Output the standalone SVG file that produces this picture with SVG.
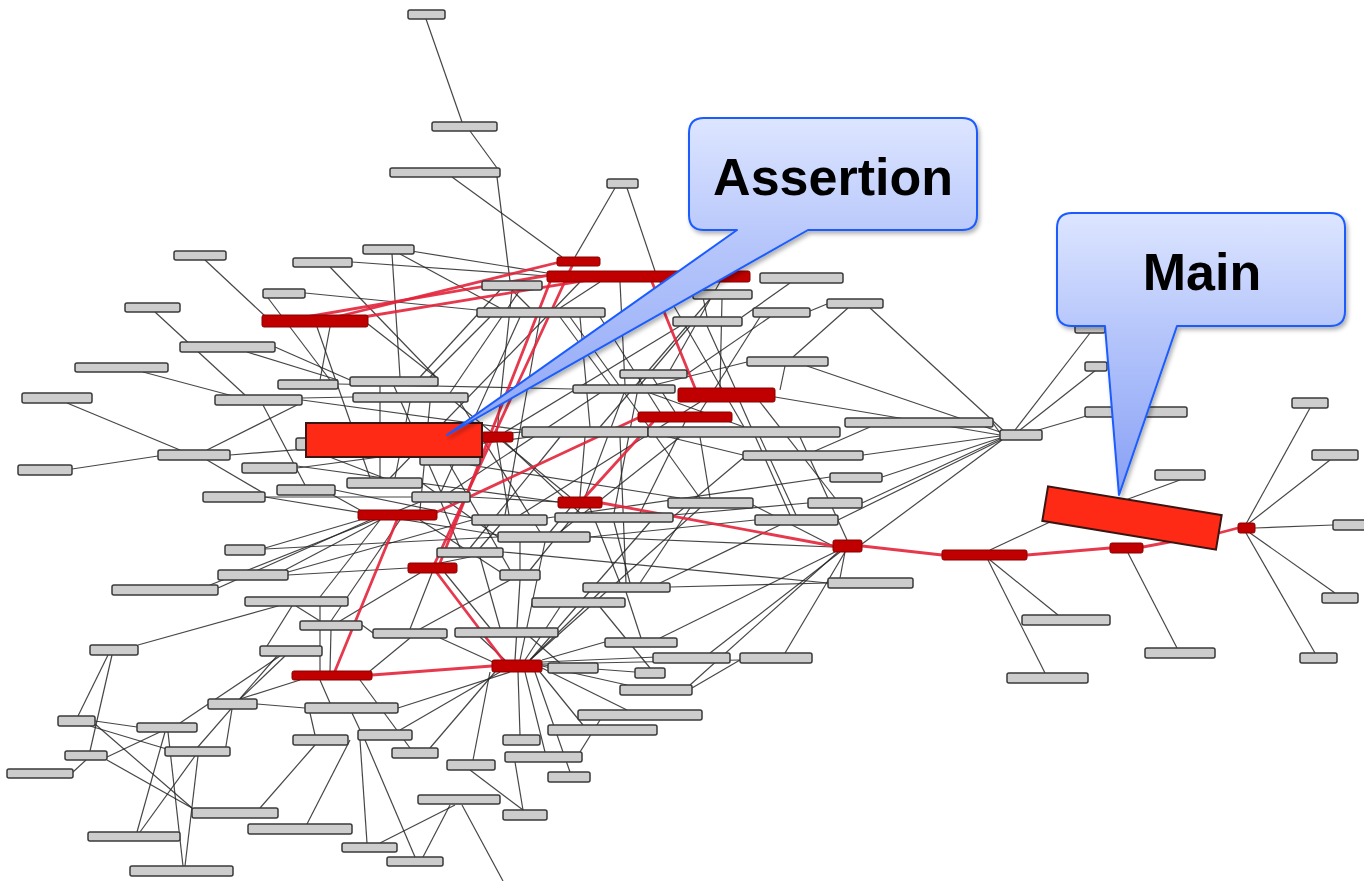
<svg xmlns="http://www.w3.org/2000/svg" width="1364" height="881" viewBox="0 0 1364 881">
<style>
.nd rect{fill:#cdcdcd;stroke:#3a3a3a;stroke-width:1.5}
.rd rect{fill:#c00000;stroke:#8a0000;stroke-width:1}
.e line{stroke:#262626;stroke-width:1.2;stroke-opacity:.85}
.r line{stroke:#e3243b;stroke-width:2.8;stroke-opacity:.9;stroke-linecap:round}
.big{fill:#ff2a16;stroke:#3a1512;stroke-width:2}
.co{stroke:#1a5cff;stroke-width:2;stroke-linejoin:round}
.ct{font-family:"Liberation Sans",Arial,sans-serif;font-weight:bold;font-size:52px;fill:#000;text-anchor:middle}
</style>
<defs>
<linearGradient id="ga" gradientUnits="userSpaceOnUse" x1="0" y1="118" x2="0" y2="435">
<stop offset="0" stop-color="#dde5ff"/><stop offset="0.4" stop-color="#b6c6fb"/><stop offset="1" stop-color="#8ea6f6"/>
</linearGradient>
<linearGradient id="gm" gradientUnits="userSpaceOnUse" x1="0" y1="213" x2="0" y2="495">
<stop offset="0" stop-color="#dde5ff"/><stop offset="0.42" stop-color="#b6c6fb"/><stop offset="1" stop-color="#88a0f5"/>
</linearGradient>
<filter id="sh" x="-10%" y="-10%" width="130%" height="130%">
<feDropShadow dx="2" dy="3" stdDeviation="2" flood-color="#000" flood-opacity="0.3"/>
</filter>
</defs>
<rect width="1364" height="881" fill="#fff"/>

<g id="connectors">
<g class="e">
<line x1="426" y1="19" x2="462" y2="122"/>
<line x1="470" y1="131" x2="497" y2="168"/>
<line x1="497" y1="177" x2="510" y2="281"/>
<line x1="452" y1="177" x2="562" y2="257"/>
<line x1="615" y1="188" x2="575" y2="257"/>
<line x1="627" y1="188" x2="655" y2="271"/>
<line x1="205" y1="260" x2="265" y2="316"/>
<line x1="330" y1="267" x2="437" y2="378"/>
<line x1="352" y1="262" x2="547" y2="276"/>
<line x1="392" y1="254" x2="400" y2="377"/>
<line x1="400" y1="254" x2="500" y2="308"/>
<line x1="405" y1="250" x2="547" y2="273"/>
<line x1="305" y1="293" x2="477" y2="310"/>
<line x1="268" y1="298" x2="330" y2="380"/>
<line x1="155" y1="312" x2="245" y2="395"/>
<line x1="247" y1="352" x2="338" y2="380"/>
<line x1="275" y1="347" x2="350" y2="380"/>
<line x1="143" y1="372" x2="233" y2="396"/>
<line x1="67" y1="403" x2="180" y2="450"/>
<line x1="207" y1="450" x2="297" y2="405"/>
<line x1="72" y1="469" x2="158" y2="456"/>
<line x1="207" y1="460" x2="265" y2="494"/>
<line x1="263" y1="405" x2="305" y2="485"/>
<line x1="265" y1="497" x2="412" y2="497"/>
<line x1="317" y1="327" x2="370" y2="478"/>
<line x1="330" y1="327" x2="320" y2="380"/>
<line x1="368" y1="324" x2="437" y2="378"/>
<line x1="302" y1="400" x2="522" y2="430"/>
<line x1="302" y1="398" x2="353" y2="397"/>
<line x1="338" y1="384" x2="573" y2="389"/>
<line x1="230" y1="455" x2="522" y2="432"/>
<line x1="297" y1="468" x2="530" y2="437"/>
<line x1="297" y1="466" x2="558" y2="502"/>
<line x1="335" y1="490" x2="472" y2="518"/>
<line x1="333" y1="495" x2="360" y2="510"/>
<line x1="265" y1="497" x2="498" y2="535"/>
<line x1="265" y1="549" x2="498" y2="537"/>
<line x1="288" y1="572" x2="472" y2="520"/>
<line x1="288" y1="575" x2="408" y2="568"/>
<line x1="210" y1="585" x2="420" y2="502"/>
<line x1="218" y1="588" x2="370" y2="520"/>
<line x1="380" y1="520" x2="285" y2="570"/>
<line x1="360" y1="520" x2="265" y2="548"/>
<line x1="380" y1="520" x2="320" y2="597"/>
<line x1="400" y1="520" x2="331" y2="621"/>
<line x1="420" y1="520" x2="505" y2="575"/>
<line x1="296" y1="444" x2="384" y2="478"/>
<line x1="512" y1="290" x2="530" y2="308"/>
<line x1="500" y1="290" x2="420" y2="377"/>
<line x1="512" y1="290" x2="497" y2="432"/>
<line x1="520" y1="290" x2="450" y2="393"/>
<line x1="490" y1="317" x2="430" y2="377"/>
<line x1="560" y1="317" x2="610" y2="385"/>
<line x1="580" y1="317" x2="590" y2="427"/>
<line x1="600" y1="317" x2="660" y2="412"/>
<line x1="520" y1="317" x2="441" y2="492"/>
<line x1="540" y1="317" x2="505" y2="515"/>
<line x1="570" y1="317" x2="700" y2="498"/>
<line x1="600" y1="282" x2="560" y2="308"/>
<line x1="620" y1="282" x2="625" y2="385"/>
<line x1="700" y1="282" x2="707" y2="317"/>
<line x1="720" y1="282" x2="670" y2="370"/>
<line x1="580" y1="282" x2="390" y2="478"/>
<line x1="660" y1="282" x2="744" y2="427"/>
<line x1="722" y1="299" x2="720" y2="388"/>
<line x1="710" y1="299" x2="600" y2="427"/>
<line x1="707" y1="326" x2="735" y2="388"/>
<line x1="690" y1="326" x2="640" y2="385"/>
<line x1="680" y1="326" x2="505" y2="432"/>
<line x1="770" y1="317" x2="687" y2="374"/>
<line x1="760" y1="317" x2="700" y2="412"/>
<line x1="653" y1="378" x2="675" y2="412"/>
<line x1="640" y1="378" x2="614" y2="513"/>
<line x1="600" y1="393" x2="450" y2="492"/>
<line x1="624" y1="393" x2="585" y2="497"/>
<line x1="650" y1="393" x2="744" y2="427"/>
<line x1="560" y1="437" x2="470" y2="548"/>
<line x1="585" y1="437" x2="580" y2="497"/>
<line x1="620" y1="437" x2="626" y2="583"/>
<line x1="700" y1="437" x2="710" y2="498"/>
<line x1="760" y1="437" x2="796" y2="515"/>
<line x1="800" y1="437" x2="847" y2="540"/>
<line x1="680" y1="437" x2="560" y2="532"/>
<line x1="685" y1="422" x2="640" y2="513"/>
<line x1="760" y1="402" x2="835" y2="498"/>
<line x1="740" y1="402" x2="790" y2="515"/>
<line x1="700" y1="402" x2="520" y2="515"/>
<line x1="394" y1="386" x2="441" y2="492"/>
<line x1="380" y1="386" x2="380" y2="478"/>
<line x1="410" y1="402" x2="395" y2="478"/>
<line x1="430" y1="402" x2="420" y2="510"/>
<line x1="460" y1="402" x2="540" y2="532"/>
<line x1="455" y1="402" x2="570" y2="497"/>
<line x1="422" y1="483" x2="498" y2="537"/>
<line x1="470" y1="497" x2="558" y2="502"/>
<line x1="441" y1="502" x2="460" y2="548"/>
<line x1="497" y1="442" x2="509" y2="515"/>
<line x1="505" y1="442" x2="580" y2="513"/>
<line x1="450" y1="465" x2="510" y2="570"/>
<line x1="470" y1="465" x2="680" y2="498"/>
<line x1="580" y1="508" x2="530" y2="570"/>
<line x1="590" y1="508" x2="620" y2="583"/>
<line x1="570" y1="508" x2="550" y2="532"/>
<line x1="614" y1="522" x2="630" y2="583"/>
<line x1="650" y1="522" x2="530" y2="660"/>
<line x1="690" y1="508" x2="640" y2="583"/>
<line x1="700" y1="508" x2="530" y2="660"/>
<line x1="780" y1="525" x2="660" y2="583"/>
<line x1="500" y1="525" x2="480" y2="548"/>
<line x1="520" y1="542" x2="520" y2="570"/>
<line x1="545" y1="542" x2="520" y2="660"/>
<line x1="470" y1="557" x2="440" y2="563"/>
<line x1="480" y1="557" x2="500" y2="628"/>
<line x1="520" y1="580" x2="515" y2="660"/>
<line x1="510" y1="580" x2="420" y2="629"/>
<line x1="600" y1="592" x2="530" y2="660"/>
<line x1="626" y1="592" x2="641" y2="638"/>
<line x1="560" y1="607" x2="525" y2="660"/>
<line x1="600" y1="607" x2="650" y2="668"/>
<line x1="480" y1="637" x2="505" y2="660"/>
<line x1="530" y1="637" x2="560" y2="663"/>
<line x1="432" y1="573" x2="410" y2="629"/>
<line x1="420" y1="573" x2="340" y2="621"/>
<line x1="445" y1="573" x2="490" y2="628"/>
<line x1="410" y1="638" x2="370" y2="671"/>
<line x1="440" y1="638" x2="495" y2="663"/>
<line x1="331" y1="630" x2="330" y2="671"/>
<line x1="320" y1="606" x2="320" y2="671"/>
<line x1="362" y1="625" x2="373" y2="633"/>
<line x1="300" y1="680" x2="240" y2="699"/>
<line x1="320" y1="680" x2="330" y2="703"/>
<line x1="360" y1="680" x2="410" y2="748"/>
<line x1="510" y1="672" x2="398" y2="708"/>
<line x1="500" y1="672" x2="400" y2="730"/>
<line x1="495" y1="672" x2="430" y2="748"/>
<line x1="490" y1="672" x2="473" y2="760"/>
<line x1="518" y1="672" x2="520" y2="735"/>
<line x1="525" y1="672" x2="545" y2="752"/>
<line x1="535" y1="672" x2="570" y2="772"/>
<line x1="540" y1="672" x2="583" y2="725"/>
<line x1="542" y1="668" x2="627" y2="710"/>
<line x1="542" y1="666" x2="627" y2="685"/>
<line x1="542" y1="662" x2="657" y2="657"/>
<line x1="542" y1="664" x2="740" y2="660"/>
<line x1="542" y1="665" x2="635" y2="672"/>
<line x1="605" y1="642" x2="542" y2="660"/>
<line x1="600" y1="720" x2="580" y2="752"/>
<line x1="470" y1="770" x2="523" y2="810"/>
<line x1="515" y1="762" x2="523" y2="810"/>
<line x1="462" y1="805" x2="503" y2="881"/>
<line x1="455" y1="805" x2="380" y2="843"/>
<line x1="450" y1="805" x2="423" y2="857"/>
<line x1="360" y1="740" x2="367" y2="843"/>
<line x1="365" y1="740" x2="415" y2="857"/>
<line x1="315" y1="745" x2="260" y2="808"/>
<line x1="350" y1="740" x2="307" y2="824"/>
<line x1="352" y1="713" x2="360" y2="730"/>
<line x1="310" y1="713" x2="315" y2="735"/>
<line x1="257" y1="704" x2="305" y2="708"/>
<line x1="285" y1="656" x2="240" y2="699"/>
<line x1="280" y1="656" x2="180" y2="723"/>
<line x1="277" y1="656" x2="197" y2="748"/>
<line x1="278" y1="606" x2="138" y2="645"/>
<line x1="292" y1="606" x2="267" y2="646"/>
<line x1="296" y1="606" x2="320" y2="621"/>
<line x1="108" y1="655" x2="78" y2="716"/>
<line x1="112" y1="655" x2="90" y2="751"/>
<line x1="95" y1="721" x2="137" y2="727"/>
<line x1="95" y1="724" x2="192" y2="808"/>
<line x1="90" y1="726" x2="170" y2="750"/>
<line x1="107" y1="757" x2="160" y2="732"/>
<line x1="73" y1="772" x2="86" y2="760"/>
<line x1="107" y1="760" x2="192" y2="808"/>
<line x1="165" y1="732" x2="137" y2="832"/>
<line x1="168" y1="732" x2="183" y2="866"/>
<line x1="195" y1="756" x2="140" y2="832"/>
<line x1="198" y1="756" x2="185" y2="866"/>
<line x1="225" y1="752" x2="232" y2="709"/>
<line x1="993" y1="423" x2="1000" y2="433"/>
<line x1="870" y1="427" x2="815" y2="451"/>
<line x1="848" y1="308" x2="793" y2="357"/>
<line x1="827" y1="304" x2="810" y2="311"/>
<line x1="870" y1="308" x2="1005" y2="432"/>
<line x1="807" y1="366" x2="1003" y2="433"/>
<line x1="785" y1="366" x2="780" y2="390"/>
<line x1="747" y1="362" x2="650" y2="386"/>
<line x1="775" y1="397" x2="1000" y2="435"/>
<line x1="1000" y1="438" x2="882" y2="477"/>
<line x1="1000" y1="439" x2="862" y2="503"/>
<line x1="1002" y1="440" x2="862" y2="544"/>
<line x1="1001" y1="440" x2="838" y2="520"/>
<line x1="863" y1="455" x2="1000" y2="436"/>
<line x1="1015" y1="430" x2="1090" y2="333"/>
<line x1="1020" y1="430" x2="1096" y2="370"/>
<line x1="1035" y1="431" x2="1100" y2="412"/>
<line x1="790" y1="283" x2="742" y2="317"/>
<line x1="743" y1="455" x2="648" y2="432"/>
<line x1="743" y1="458" x2="673" y2="517"/>
<line x1="830" y1="477" x2="547" y2="518"/>
<line x1="808" y1="503" x2="673" y2="515"/>
<line x1="755" y1="520" x2="590" y2="537"/>
<line x1="840" y1="578" x2="845" y2="552"/>
<line x1="835" y1="552" x2="660" y2="638"/>
<line x1="840" y1="552" x2="710" y2="653"/>
<line x1="845" y1="552" x2="785" y2="653"/>
<line x1="838" y1="552" x2="690" y2="685"/>
<line x1="833" y1="546" x2="753" y2="505"/>
<line x1="670" y1="587" x2="828" y2="583"/>
<line x1="503" y1="552" x2="828" y2="583"/>
<line x1="590" y1="537" x2="833" y2="547"/>
<line x1="740" y1="660" x2="692" y2="688"/>
<line x1="1246" y1="524" x2="1310" y2="408"/>
<line x1="1248" y1="524" x2="1330" y2="460"/>
<line x1="1255" y1="528" x2="1333" y2="525"/>
<line x1="1250" y1="533" x2="1335" y2="593"/>
<line x1="1246" y1="533" x2="1315" y2="653"/>
<line x1="1120" y1="502" x2="1180" y2="480"/>
<line x1="1050" y1="522" x2="990" y2="550"/>
<line x1="990" y1="560" x2="1058" y2="615"/>
<line x1="988" y1="560" x2="1045" y2="673"/>
<line x1="1128" y1="553" x2="1177" y2="648"/>
</g>
<g class="r">
<line x1="340" y1="316" x2="560" y2="262"/>
<line x1="345" y1="320" x2="600" y2="278"/>
<line x1="300" y1="318" x2="550" y2="275"/>
<line x1="652" y1="282" x2="695" y2="388"/>
<line x1="572" y1="266" x2="435" y2="563"/>
<line x1="550" y1="282" x2="440" y2="563"/>
<line x1="653" y1="422" x2="585" y2="497"/>
<line x1="640" y1="417" x2="437" y2="512"/>
<line x1="397" y1="520" x2="335" y2="671"/>
<line x1="437" y1="573" x2="503" y2="660"/>
<line x1="372" y1="675" x2="492" y2="666"/>
<line x1="602" y1="503" x2="833" y2="546"/>
<line x1="862" y1="546" x2="942" y2="555"/>
<line x1="1027" y1="555" x2="1110" y2="548"/>
<line x1="1143" y1="547" x2="1180" y2="540"/>
<line x1="1215" y1="534" x2="1238" y2="528"/>
</g>
</g>

<g id="n1" class="nd"><rect x="408" y="10" width="37" height="9" rx="2"/></g>
<g id="n2" class="nd"><rect x="432" y="122" width="65" height="9" rx="2"/></g>
<g id="n3" class="nd"><rect x="390" y="168" width="110" height="9" rx="2"/></g>
<g id="n4" class="nd"><rect x="607" y="179" width="31" height="9" rx="2"/></g>
<g id="n5" class="nd"><rect x="174" y="251" width="52" height="9" rx="2"/></g>
<g id="n6" class="nd"><rect x="293" y="258" width="59" height="9" rx="2"/></g>
<g id="n7" class="nd"><rect x="363" y="245" width="51" height="9" rx="2"/></g>
<g id="n8" class="nd"><rect x="263" y="289" width="42" height="9" rx="2"/></g>
<g id="n9" class="nd"><rect x="125" y="303" width="55" height="9" rx="2"/></g>
<g id="n10" class="nd"><rect x="482" y="281" width="60" height="9" rx="2"/></g>
<g id="n11" class="nd"><rect x="477" y="308" width="128" height="9" rx="2"/></g>
<g id="n12" class="nd"><rect x="760" y="273" width="83" height="10" rx="2"/></g>
<g id="n13" class="nd"><rect x="693" y="290" width="59" height="9" rx="2"/></g>
<g id="n14" class="nd"><rect x="673" y="317" width="69" height="9" rx="2"/></g>
<g id="n15" class="nd"><rect x="753" y="308" width="57" height="9" rx="2"/></g>
<g id="n16" class="nd"><rect x="827" y="299" width="56" height="9" rx="2"/></g>
<g id="n17" class="nd"><rect x="180" y="342" width="95" height="10" rx="2"/></g>
<g id="n18" class="nd"><rect x="75" y="363" width="93" height="9" rx="2"/></g>
<g id="n19" class="nd"><rect x="22" y="393" width="70" height="10" rx="2"/></g>
<g id="n20" class="nd"><rect x="278" y="380" width="60" height="9" rx="2"/></g>
<g id="n21" class="nd"><rect x="350" y="377" width="88" height="9" rx="2"/></g>
<g id="n22" class="nd"><rect x="215" y="395" width="87" height="10" rx="2"/></g>
<g id="n23" class="nd"><rect x="353" y="393" width="115" height="9" rx="2"/></g>
<g id="n24" class="nd"><rect x="158" y="450" width="72" height="10" rx="2"/></g>
<g id="n25" class="nd"><rect x="18" y="465" width="54" height="10" rx="2"/></g>
<g id="n26" class="nd"><rect x="242" y="463" width="55" height="10" rx="2"/></g>
<g id="n27" class="nd"><rect x="203" y="492" width="62" height="10" rx="2"/></g>
<g id="n28" class="nd"><rect x="277" y="485" width="58" height="10" rx="2"/></g>
<g id="n29" class="nd"><rect x="347" y="478" width="75" height="10" rx="2"/></g>
<g id="n30" class="nd"><rect x="412" y="492" width="58" height="10" rx="2"/></g>
<g id="n31" class="nd"><rect x="620" y="370" width="67" height="8" rx="2"/></g>
<g id="n32" class="nd"><rect x="573" y="385" width="102" height="8" rx="2"/></g>
<g id="n33" class="nd"><rect x="522" y="427" width="126" height="10" rx="2"/></g>
<g id="n34" class="nd"><rect x="648" y="427" width="192" height="10" rx="2"/></g>
<g id="n35" class="nd"><rect x="747" y="357" width="81" height="9" rx="2"/></g>
<g id="n36" class="nd"><rect x="845" y="418" width="148" height="9" rx="2"/></g>
<g id="n37" class="nd"><rect x="743" y="451" width="120" height="9" rx="2"/></g>
<g id="n38" class="nd"><rect x="830" y="473" width="52" height="9" rx="2"/></g>
<g id="n39" class="nd"><rect x="808" y="498" width="54" height="10" rx="2"/></g>
<g id="n40" class="nd"><rect x="668" y="498" width="85" height="10" rx="2"/></g>
<g id="n41" class="nd"><rect x="555" y="513" width="118" height="9" rx="2"/></g>
<g id="n42" class="nd"><rect x="755" y="515" width="83" height="10" rx="2"/></g>
<g id="n43" class="nd"><rect x="472" y="515" width="75" height="10" rx="2"/></g>
<g id="n44" class="nd"><rect x="498" y="532" width="92" height="10" rx="2"/></g>
<g id="n45" class="nd"><rect x="437" y="548" width="66" height="9" rx="2"/></g>
<g id="n46" class="nd"><rect x="500" y="570" width="40" height="10" rx="2"/></g>
<g id="n47" class="nd"><rect x="583" y="583" width="87" height="9" rx="2"/></g>
<g id="n48" class="nd"><rect x="828" y="578" width="85" height="10" rx="2"/></g>
<g id="n49" class="nd"><rect x="225" y="545" width="40" height="10" rx="2"/></g>
<g id="n50" class="nd"><rect x="218" y="570" width="70" height="10" rx="2"/></g>
<g id="n51" class="nd"><rect x="112" y="585" width="106" height="10" rx="2"/></g>
<g id="n52" class="nd"><rect x="245" y="597" width="103" height="9" rx="2"/></g>
<g id="n53" class="nd"><rect x="300" y="621" width="62" height="9" rx="2"/></g>
<g id="n54" class="nd"><rect x="373" y="629" width="74" height="9" rx="2"/></g>
<g id="n55" class="nd"><rect x="90" y="645" width="48" height="10" rx="2"/></g>
<g id="n56" class="nd"><rect x="260" y="646" width="62" height="10" rx="2"/></g>
<g id="n57" class="nd"><rect x="208" y="699" width="49" height="10" rx="2"/></g>
<g id="n58" class="nd"><rect x="305" y="703" width="93" height="10" rx="2"/></g>
<g id="n59" class="nd"><rect x="58" y="716" width="37" height="10" rx="2"/></g>
<g id="n60" class="nd"><rect x="137" y="723" width="60" height="9" rx="2"/></g>
<g id="n61" class="nd"><rect x="293" y="735" width="55" height="10" rx="2"/></g>
<g id="n62" class="nd"><rect x="358" y="730" width="54" height="10" rx="2"/></g>
<g id="n63" class="nd"><rect x="165" y="747" width="65" height="9" rx="2"/></g>
<g id="n64" class="nd"><rect x="65" y="751" width="42" height="9" rx="2"/></g>
<g id="n65" class="nd"><rect x="392" y="748" width="46" height="10" rx="2"/></g>
<g id="n66" class="nd"><rect x="7" y="769" width="66" height="9" rx="2"/></g>
<g id="n67" class="nd"><rect x="192" y="808" width="86" height="10" rx="2"/></g>
<g id="n68" class="nd"><rect x="418" y="795" width="82" height="9" rx="2"/></g>
<g id="n69" class="nd"><rect x="248" y="824" width="104" height="10" rx="2"/></g>
<g id="n70" class="nd"><rect x="88" y="832" width="92" height="9" rx="2"/></g>
<g id="n71" class="nd"><rect x="342" y="843" width="55" height="9" rx="2"/></g>
<g id="n72" class="nd"><rect x="387" y="857" width="56" height="9" rx="2"/></g>
<g id="n73" class="nd"><rect x="130" y="866" width="103" height="10" rx="2"/></g>
<g id="n74" class="nd"><rect x="447" y="760" width="48" height="10" rx="2"/></g>
<g id="n75" class="nd"><rect x="532" y="598" width="93" height="9" rx="2"/></g>
<g id="n76" class="nd"><rect x="455" y="628" width="103" height="9" rx="2"/></g>
<g id="n77" class="nd"><rect x="605" y="638" width="72" height="9" rx="2"/></g>
<g id="n78" class="nd"><rect x="653" y="653" width="77" height="10" rx="2"/></g>
<g id="n79" class="nd"><rect x="740" y="653" width="72" height="10" rx="2"/></g>
<g id="n80" class="nd"><rect x="548" y="663" width="50" height="10" rx="2"/></g>
<g id="n81" class="nd"><rect x="635" y="668" width="30" height="10" rx="2"/></g>
<g id="n82" class="nd"><rect x="620" y="685" width="72" height="10" rx="2"/></g>
<g id="n83" class="nd"><rect x="578" y="710" width="124" height="10" rx="2"/></g>
<g id="n84" class="nd"><rect x="548" y="725" width="109" height="10" rx="2"/></g>
<g id="n85" class="nd"><rect x="503" y="735" width="37" height="10" rx="2"/></g>
<g id="n86" class="nd"><rect x="505" y="752" width="77" height="10" rx="2"/></g>
<g id="n87" class="nd"><rect x="548" y="772" width="42" height="10" rx="2"/></g>
<g id="n88" class="nd"><rect x="503" y="810" width="44" height="10" rx="2"/></g>
<g id="n89" class="nd"><rect x="1075" y="325" width="30" height="8" rx="2"/></g>
<g id="n90" class="nd"><rect x="1085" y="362" width="22" height="9" rx="2"/></g>
<g id="n91" class="nd"><rect x="1085" y="407" width="102" height="10" rx="2"/></g>
<g id="n92" class="nd"><rect x="1000" y="430" width="42" height="10" rx="2"/></g>
<g id="n93" class="nd"><rect x="1155" y="470" width="50" height="10" rx="2"/></g>
<g id="n94" class="nd"><rect x="1292" y="398" width="36" height="10" rx="2"/></g>
<g id="n95" class="nd"><rect x="1312" y="450" width="46" height="10" rx="2"/></g>
<g id="n96" class="nd"><rect x="1333" y="520" width="33" height="10" rx="2"/></g>
<g id="n97" class="nd"><rect x="1322" y="593" width="36" height="10" rx="2"/></g>
<g id="n98" class="nd"><rect x="1300" y="653" width="37" height="10" rx="2"/></g>
<g id="n99" class="nd"><rect x="1022" y="615" width="88" height="10" rx="2"/></g>
<g id="n100" class="nd"><rect x="1145" y="648" width="70" height="10" rx="2"/></g>
<g id="n101" class="nd"><rect x="1007" y="673" width="81" height="10" rx="2"/></g>
<g id="n102" class="nd"><rect x="420" y="456" width="60" height="9" rx="2"/></g>
<g id="n103" class="nd"><rect x="296" y="438" width="20" height="12" rx="2"/></g>

<g id="r1" class="rd"><rect x="262" y="315" width="106" height="12" rx="2"/></g>
<g id="r2" class="rd"><rect x="557" y="257" width="43" height="9" rx="2"/></g>
<g id="r3" class="rd"><rect x="547" y="271" width="203" height="11" rx="2"/></g>
<g id="r4" class="rd"><rect x="678" y="388" width="97" height="14" rx="2"/></g>
<g id="r5" class="rd"><rect x="638" y="412" width="94" height="10" rx="2"/></g>
<g id="r6" class="rd"><rect x="482" y="432" width="31" height="10" rx="2"/></g>
<g id="r7" class="rd"><rect x="558" y="497" width="44" height="11" rx="2"/></g>
<g id="r8" class="rd"><rect x="358" y="510" width="79" height="10" rx="2"/></g>
<g id="r9" class="rd"><rect x="408" y="563" width="49" height="10" rx="2"/></g>
<g id="r10" class="rd"><rect x="292" y="671" width="80" height="9" rx="2"/></g>
<g id="r11" class="rd"><rect x="492" y="660" width="50" height="12" rx="2"/></g>
<g id="r12" class="rd"><rect x="833" y="540" width="29" height="12" rx="2"/></g>
<g id="r13" class="rd"><rect x="942" y="550" width="85" height="10" rx="2"/></g>
<g id="r14" class="rd"><rect x="1110" y="543" width="33" height="10" rx="2"/></g>
<g id="r15" class="rd"><rect x="1238" y="523" width="17" height="10" rx="2"/></g>

<g id="assertion-node"><rect class="big" x="306" y="423" width="176" height="34"/></g>
<g id="main-node" transform="translate(1132,518) rotate(9.4)"><rect class="big" x="-88" y="-17.5" width="176" height="35"/></g>

<g id="callout-assertion" filter="url(#sh)">
<path class="co" fill="url(#ga)" d="M704,118 H962 Q977,118 977,133 V215 Q977,230 962,230 H808 L447,435 L737,230 H704 Q689,230 689,215 V133 Q689,118 704,118 Z"/>
<text class="ct" x="833" y="195">Assertion</text>
</g>
<g id="callout-main" filter="url(#sh)">
<path class="co" fill="url(#gm)" d="M1072,213 H1330 Q1345,213 1345,228 V311 Q1345,326 1330,326 H1177 L1119,495 L1105,326 H1072 Q1057,326 1057,311 V228 Q1057,213 1072,213 Z"/>
<text class="ct" x="1202" y="290">Main</text>
</g>
</svg>
